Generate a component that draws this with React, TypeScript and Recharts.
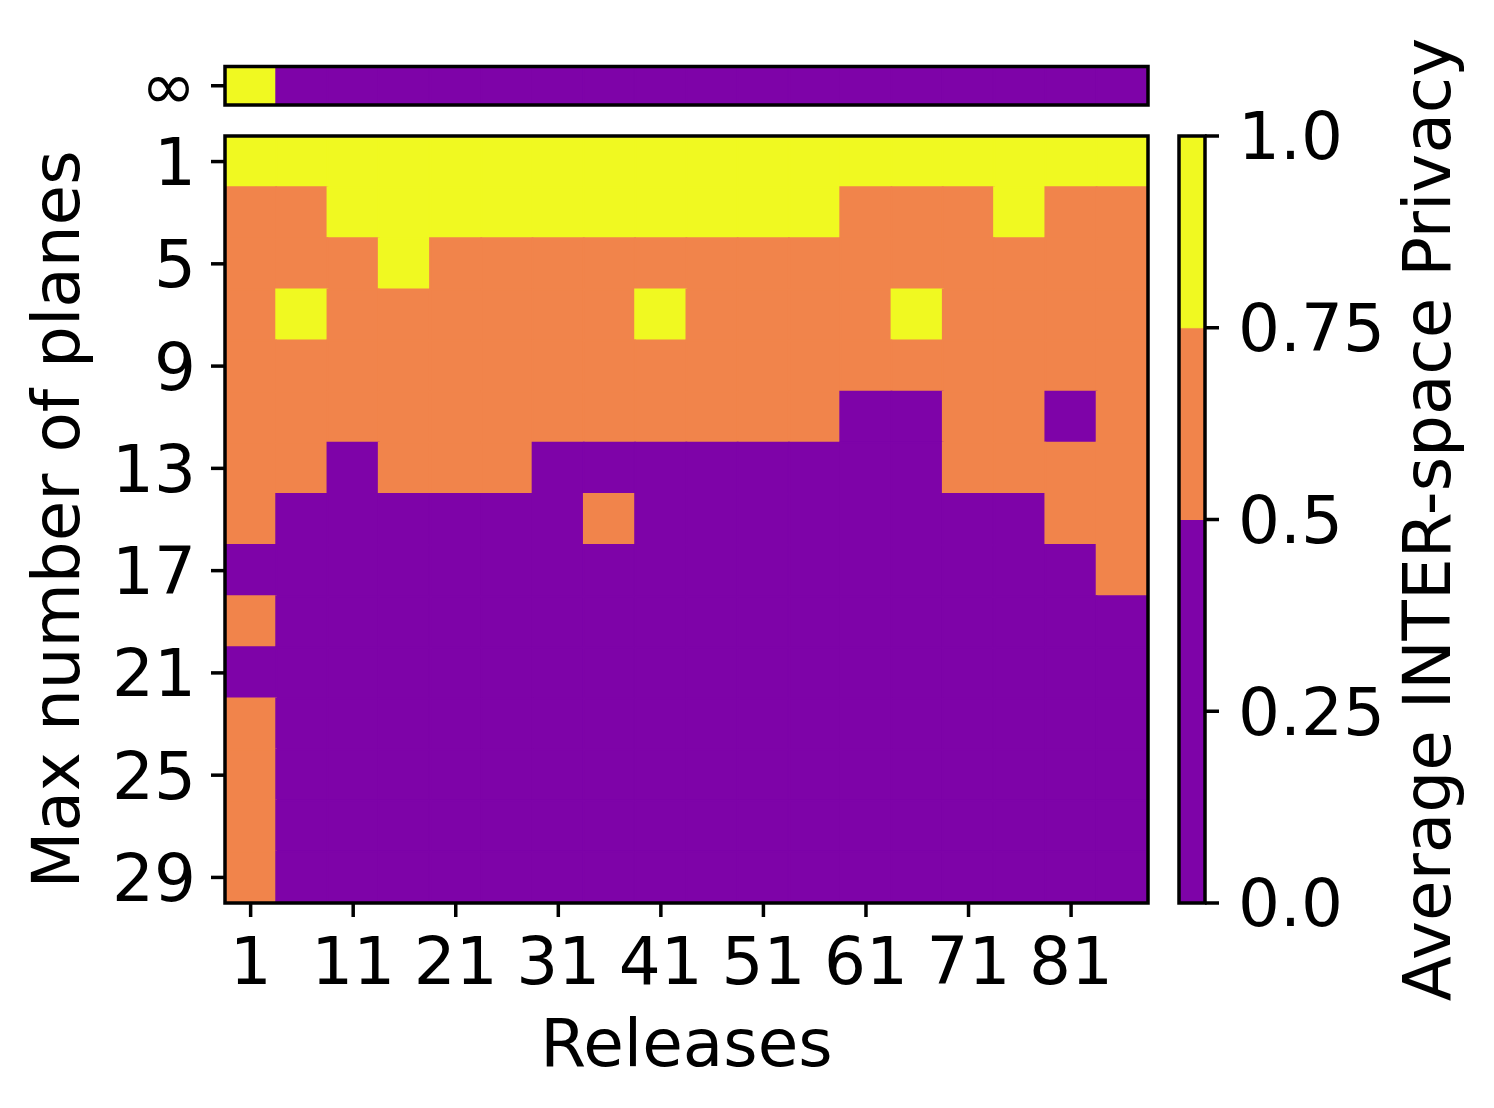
import { BarChart, Bar, Cell, XAxis, YAxis, ReferenceArea, Label } from "recharts";

// columns = releases (every 5th), rows = max number of planes (every 2nd)
const releases = [1, 6, 11, 16, 21, 26, 31, 36, 41, 46, 51, 56, 61, 66, 71, 76, 81, 86];
const releaseTicks = [1, 11, 21, 31, 41, 51, 61, 71, 81];
const planes = [1, 3, 5, 7, 9, 11, 13, 15, 17, 19, 21, 23, 25, 27, 29];
const planeTicks = [1, 5, 9, 13, 17, 21, 25, 29];
const planeSpan = 2;

// privacy level per cell: 0 = below 0.5, 1 = 0.5 to 0.75, 2 = 0.75 to 1.0
const levelColors = ["#7e03a8", "#f1844b", "#f0f921"];
const levelBounds = [0, 0.5, 0.75, 1.0];
const colorbarTicks = [0, 0.25, 0.5, 0.75, 1.0];

const infLevels = [2, 0, 0, 0, 0, 0, 0, 0, 0, 0, 0, 0, 0, 0, 0, 0, 0, 0];

const privacyLevels = [
  [2, 2, 2, 2, 2, 2, 2, 2, 2, 2, 2, 2, 2, 2, 2, 2, 2, 2],
  [1, 1, 2, 2, 2, 2, 2, 2, 2, 2, 2, 2, 1, 1, 1, 2, 1, 1],
  [1, 1, 1, 2, 1, 1, 1, 1, 1, 1, 1, 1, 1, 1, 1, 1, 1, 1],
  [1, 2, 1, 1, 1, 1, 1, 1, 2, 1, 1, 1, 1, 2, 1, 1, 1, 1],
  [1, 1, 1, 1, 1, 1, 1, 1, 1, 1, 1, 1, 1, 1, 1, 1, 1, 1],
  [1, 1, 1, 1, 1, 1, 1, 1, 1, 1, 1, 1, 0, 0, 1, 1, 0, 1],
  [1, 1, 0, 1, 1, 1, 0, 0, 0, 0, 0, 0, 0, 0, 1, 1, 1, 1],
  [1, 0, 0, 0, 0, 0, 0, 1, 0, 0, 0, 0, 0, 0, 0, 0, 1, 1],
  [0, 0, 0, 0, 0, 0, 0, 0, 0, 0, 0, 0, 0, 0, 0, 0, 0, 1],
  [1, 0, 0, 0, 0, 0, 0, 0, 0, 0, 0, 0, 0, 0, 0, 0, 0, 0],
  [0, 0, 0, 0, 0, 0, 0, 0, 0, 0, 0, 0, 0, 0, 0, 0, 0, 0],
  [1, 0, 0, 0, 0, 0, 0, 0, 0, 0, 0, 0, 0, 0, 0, 0, 0, 0],
  [1, 0, 0, 0, 0, 0, 0, 0, 0, 0, 0, 0, 0, 0, 0, 0, 0, 0],
  [1, 0, 0, 0, 0, 0, 0, 0, 0, 0, 0, 0, 0, 0, 0, 0, 0, 0],
  [1, 0, 0, 0, 0, 0, 0, 0, 0, 0, 0, 0, 0, 0, 0, 0, 0, 0],
];

const W = 1494;
const H = 1108;
const FONT = 66;
const LW = 3.5;
const tick = { fill: "#000", fontSize: FONT };
const line = { stroke: "#000", strokeWidth: LW };

const gridData = releases.map((r) => {
  const row: Record<string, number> = { release: r };
  planes.forEach((p) => (row[`p${p}`] = planeSpan));
  return row;
});

const infData = releases.map((r) => ({ release: r, inf: 1 }));

const colorbarData = [
  Object.fromEntries(
    levelColors.map((_, i) => [`l${i}`, levelBounds[i + 1] - levelBounds[i]])
  ),
];

const fmtBar = (v: number) => (v === 0 || v === 1 ? v.toFixed(1) : String(v));

// plot areas (margins) shared between data layers and frame overlays
const stripMargin = { top: 66.5, right: 346, bottom: 1003, left: 0 };
const mainMargin = { top: 136, right: 346, bottom: 0, left: 0 };
const cbMargin = { top: 136, right: 0, bottom: 205, left: 1179 };

const layer = { position: "absolute" as const, left: 0, top: 0 };

function RotatedTitle(props: any) {
  const { viewBox, value, dx } = props;
  const x = viewBox.x + dx;
  const y = viewBox.y + viewBox.height / 2;
  return (
    <text x={x} y={y} fill="#000" fontSize={FONT} textAnchor="middle" transform={`rotate(-90, ${x}, ${y})`}>
      {value}
    </text>
  );
}

function BottomTitle(props: any) {
  const { viewBox, value } = props;
  return (
    <text x={viewBox.x + viewBox.width / 2} y={viewBox.y + 163} fill="#000" fontSize={FONT} textAnchor="middle">
      {value}
    </text>
  );
}

// black box drawn in its own svg on top, so the bars never cover it
function Frame({ margin, domain, data, dataKey }: { margin: any; domain: [number, number]; data: any[]; dataKey: string }) {
  return (
    <div style={layer}>
      <BarChart width={W} height={H} data={data} margin={margin}>
        <XAxis dataKey="release" hide />
        <YAxis type="number" domain={domain} hide />
        <Bar dataKey={dataKey} fill="none" fillOpacity={0} isAnimationActive={false} />
        <ReferenceArea y1={domain[0]} y2={domain[1]} fill="none" fillOpacity={0} stroke="#000" strokeWidth={LW} />
      </BarChart>
    </div>
  );
}

export default function App() {
  return (
    <div
      style={{
        position: "absolute",
        left: 0,
        top: 0,
        width: W,
        height: H,
        overflow: "hidden",
        background: "#fff",
        fontFamily: "DejaVu Sans",
      }}
    >
      {/* infinity strip */}
      <div style={layer}>
        <BarChart width={W} height={H} data={infData} barCategoryGap={0} barGap={0} margin={stripMargin}>
          <XAxis dataKey="release" hide />
          <YAxis type="number" domain={[0, 1]} ticks={[0.5]} tickFormatter={() => "∞"} width={225}
            tick={tick} tickLine={line} axisLine={false} tickSize={14} tickMargin={15} />
          <Bar dataKey="inf" isAnimationActive={false}>
            {infLevels.map((lv, i) => (
              <Cell key={i} fill={levelColors[lv]} stroke={levelColors[lv]} strokeWidth={2} />
            ))}
          </Bar>
        </BarChart>
      </div>

      {/* main heatmap */}
      <div style={layer}>
        <BarChart width={W} height={H} data={gridData} barCategoryGap={0} barGap={0} margin={mainMargin}>
          <XAxis dataKey="release" ticks={releaseTicks} interval={0} height={205}
            tick={tick} tickLine={line} axisLine={false} tickSize={14} tickMargin={20}>
            <Label content={<BottomTitle value="Releases" />} />
          </XAxis>
          <YAxis type="number" domain={[0, 30]} reversed ticks={planeTicks} interval={0} width={225}
            allowDataOverflow tick={tick} tickLine={line} axisLine={false} tickSize={14} tickMargin={15}>
            <Label content={<RotatedTitle value="Max number of planes" dx={79} />} />
          </YAxis>
          {planes.map((p, ri) => (
            <Bar key={p} dataKey={`p${p}`} stackId="grid" isAnimationActive={false}>
              {releases.map((r, ci) => {
                const c = levelColors[privacyLevels[ri][ci]];
                return <Cell key={r} fill={c} stroke={c} strokeWidth={2} />;
              })}
            </Bar>
          ))}
        </BarChart>
      </div>

      {/* colorbar */}
      <div style={layer}>
        <BarChart width={W} height={H} data={colorbarData} barCategoryGap={0} barGap={0} margin={cbMargin}>
          <XAxis hide />
          <YAxis type="number" orientation="right" domain={[0, 1]} ticks={colorbarTicks} interval={0}
            width={289} tickFormatter={fmtBar} tick={tick} tickLine={line} axisLine={false}
            tickSize={14} tickMargin={19}>
            <Label content={<RotatedTitle value="Average INTER-space Privacy" dx={245} />} />
          </YAxis>
          {levelColors.map((c, i) => (
            <Bar key={i} dataKey={`l${i}`} stackId="cb" fill={c} stroke={c} strokeWidth={1} isAnimationActive={false} />
          ))}
        </BarChart>
      </div>

      <Frame margin={{ ...stripMargin, left: 225 }} domain={[0, 1]} data={infData} dataKey="inf" />
      <Frame margin={{ ...mainMargin, left: 225, bottom: 205 }} domain={[0, 30]} data={gridData} dataKey="p1" />
      <Frame margin={{ ...cbMargin, right: 289 }} domain={[0, 1]} data={colorbarData} dataKey="l0" />
    </div>
  );
}
